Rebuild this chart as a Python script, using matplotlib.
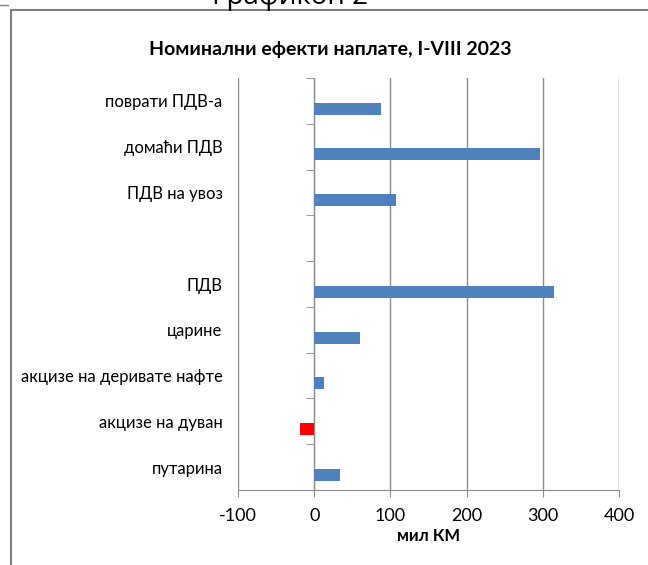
import numpy as np
import matplotlib
matplotlib.use("Agg")
import matplotlib.pyplot as plt
from matplotlib.patches import Rectangle
from matplotlib.lines import Line2D

plt.rcParams['font.family'] = ['Lato', 'DejaVu Sans']

# data (mil KM)
categories = ["поврати ПДВ-а", "домаћи ПДВ", "ПДВ на увоз", "",
              "ПДВ", "царине", "акцизе на деривате нафте",
              "акцизе на дуван", "путарина"]
values = [88, 296, 107, np.nan, 315, 60, 13, -19, 34]
x_ticks = [-100, 0, 100, 200, 300, 400]

title = "Номинални ефекти наплате, I-VIII 2023"
x_label = "мил КМ"

blue = "#4F81BD"
red = "#FF0000"
grey = "#8C8C8C"


def main():
    fig = plt.figure(figsize=(6.48, 5.65), dpi=100)
    ax = fig.add_axes([238 / 648, 1 - 490 / 565, 381 / 648, 412 / 565])

    pos = np.arange(len(categories))
    vals = np.array(values, dtype=float)
    ok = ~np.isnan(vals)
    colors = [red if v < 0 else blue for v in vals[ok]]
    ax.barh(pos[ok] + 0.17, vals[ok], height=0.26, color=colors, zorder=3)

    ax.set_xlim(x_ticks[0], x_ticks[-1])
    ax.set_ylim(len(categories) - 0.5, -0.5)
    ax.set_xticks(x_ticks)
    ax.set_xticklabels([str(t) for t in x_ticks], fontsize=13)
    ax.grid(axis='x', color=grey, lw=1, zorder=0)
    ax.set_axisbelow(True)

    # y axis sits at x = 0, ticks on category boundaries
    ax.spines['left'].set_position(('data', 0))
    ax.spines['left'].set_color(grey)
    ax.spines['bottom'].set_color(grey)
    ax.spines['top'].set_visible(False)
    ax.spines['right'].set_visible(False)
    ax.set_yticks(pos)
    ax.set_yticklabels(categories, fontsize=12)
    ax.set_yticks(np.arange(len(categories) + 1) - 0.5, minor=True)
    ax.tick_params(axis='y', which='major', length=0, pad=66)
    ax.tick_params(axis='y', which='minor', length=6, color=grey, direction='out')
    ax.tick_params(axis='x', length=5, color=grey, direction='out', pad=8)

    ax.set_xlabel(x_label, fontsize=12, fontweight='bold', labelpad=3)
    fig.text(330 / 648, 1 - 50 / 565, title, fontsize=14, fontweight='bold',
             ha='center', va='center')

    # outer frame and cut-off caption from the source document
    fig.add_artist(Rectangle((11 / 648, -0.1), 1.0, 1.1 - 10 / 565, fill=False,
                             edgecolor='#7F7F7F', lw=1.5, transform=fig.transFigure))
    fig.add_artist(Line2D([0, 8 / 648], [1 - 5 / 565, 1 - 5 / 565], color='#7F7F7F',
                          lw=1, transform=fig.transFigure))
    fig.text(290 / 648, 1 - 4 / 565, "Графикон 2", fontsize=20, ha='center',
             va='baseline', family=['Open Sans', 'DejaVu Sans'])

    fig.savefig("out.png", dpi=100)


if __name__ == "__main__":
    main()
